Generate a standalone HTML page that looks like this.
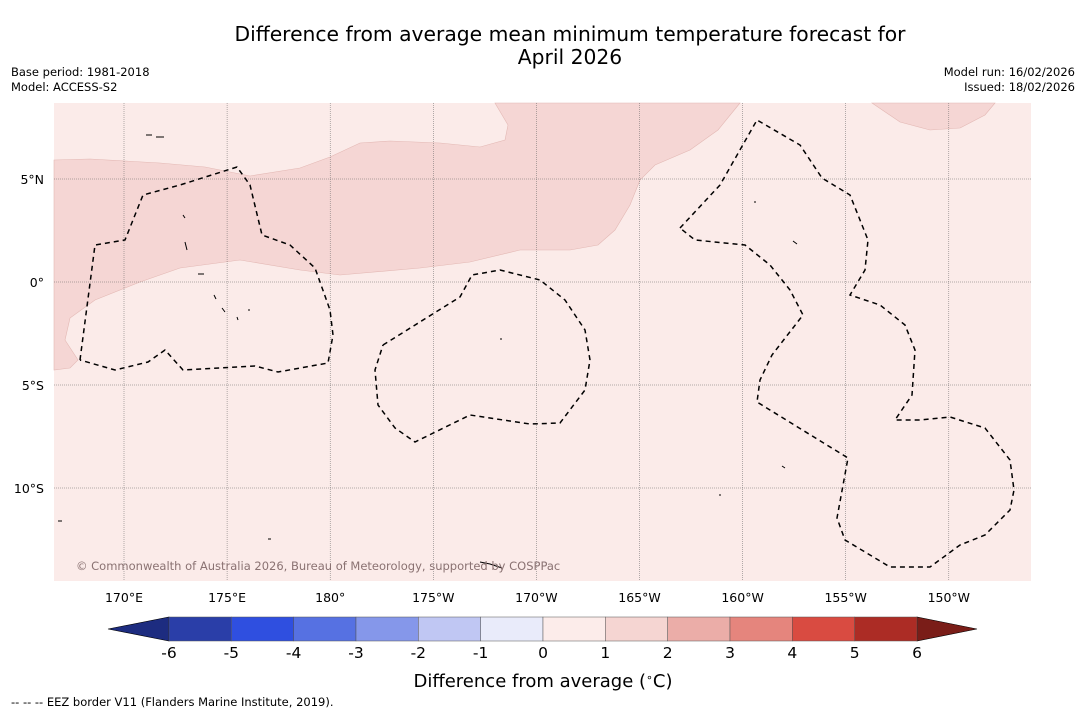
<!DOCTYPE html>
<html><head><meta charset="utf-8"><style>
body{margin:0;background:#fff;width:1085px;height:713px;overflow:hidden;font-family:"DejaVu Sans",sans-serif}
</style></head><body>
<svg width="1085" height="713" viewBox="0 0 1085 713" xmlns="http://www.w3.org/2000/svg" font-family="DejaVu Sans, sans-serif">
<text x="570" y="41" font-size="20.3" text-anchor="middle">Difference from average mean minimum temperature forecast for</text>
<text x="570" y="64" font-size="20.3" text-anchor="middle">April 2026</text>
<text x="11" y="76" font-size="11.5">Base period: 1981-2018</text>
<text x="11" y="91" font-size="11.5">Model: ACCESS-S2</text>
<text x="1075" y="76" font-size="11.5" text-anchor="end">Model run: 16/02/2026</text>
<text x="1075" y="91" font-size="11.5" text-anchor="end">Issued: 18/02/2026</text>
<g id="map">
<rect x="54" y="103" width="977" height="478" fill="#fbebe9"/>
<polygon fill="#f5d6d4" stroke="#e3b8b4" stroke-width="0.6" points="54,160 90,159 160,163 205,167 250,176 300,168 330,157 360,143 390,141 440,143 480,147 505,140 508,125 495,103 740,103 718,130 690,150 655,165 640,180 630,205 615,230 598,245 570,250 520,250 470,262 420,268 340,275 300,270 240,260 180,268 140,282 95,300 70,318 65,340 78,360 70,368 54,370"/>
<polygon fill="#f5d6d4" stroke="#e3b8b4" stroke-width="0.6" points="872,103 900,122 930,130 960,128 985,115 995,103"/>
<g id="grid" stroke="#666" stroke-width="0.5" stroke-dasharray="1,1"></g>
<g fill="none" stroke="#000" stroke-width="1.5" stroke-dasharray="5,4">
<polyline points="80,360 95,245 125,240 143,195 180,185 237,167 250,185 262,235 290,245 315,268 330,310 333,335 328,363 278,372 255,366 183,370 165,350 148,362 115,370 80,360"/>
<polyline points="383,345 460,297 472,275 500,270 540,280 565,300 585,330 590,360 585,390 560,423 530,424 470,415 415,442 395,428 378,405 375,370 383,345"/>
<polyline points="680,228 720,185 757,120 800,145 822,178 850,195 868,240 865,270 850,295 880,305 905,325 915,350 912,395 895,420 920,420 950,417 985,428 1010,460 1014,490 1010,510 985,535 960,545 930,567 890,567 845,540 837,518 848,458 757,402 760,380 772,355 803,315 790,290 770,265 745,245 695,240 680,228"/>
</g>
<g fill="none" stroke="#000" stroke-width="1">
<path d="M146 135h6M156 137h8M183 215l2 3M185 242l2 8M198 274h6M237 317l1 3M480 562l10 2 12 4M500 339h2M755 201v2M793 241l4 3M782 466l3 2M720 494v2M58 521h4M268 539h3M214 295l2 4M248 310h2M222 308l3 4"/>
</g>
<text x="76" y="570" font-size="11.5" fill="#8a7272">© Commonwealth of Australia 2026, Bureau of Meteorology, supported by COSPPac</text>
</g>
<g id="axlabels" font-size="12.5"></g>
<g id="colorbar"></g>
<text x="543" y="687" font-size="18" text-anchor="middle">Difference from average (<tspan baseline-shift="super" font-size="11">∘</tspan>C)</text>
<text x="11" y="706" font-size="11.5">--  --  -- EEZ border V11 (Flanders Marine Institute, 2019).</text>
</svg>
<script>
const lonTicks=["170°E","175°E","180°","175°W","170°W","165°W","160°W","155°W","150°W"];
const lonValues=[170,175,180,185,190,195,200,205,210];
const latTicks=["5°N","0°","5°S","10°S"];
const latValues=[5,0,-5,-10];
const cbTicks=[-6,-5,-4,-3,-2,-1,0,1,2,3,4,5,6];
const cbColors=["#2a3ea8","#2f4fe0","#5671e2","#8597ea","#c0c7f3","#e9ebfa","#fcecea","#f5d5d2","#ebada8","#e5857d","#d94b41","#ac2c25"];
const NS="http://www.w3.org/2000/svg";
const xLon=v=>124+(v-170)*20.62;
const yLat=v=>282-v*20.6;
const grid=document.getElementById('grid'),ax=document.getElementById('axlabels'),cb=document.getElementById('colorbar');
function mk(t,a,p){const e=document.createElementNS(NS,t);for(const k in a)e.setAttribute(k,a[k]);p.appendChild(e);return e;}
lonValues.forEach((v,i)=>{const x=xLon(v);
 const l=mk('line',{x1:x,x2:x,y1:103,y2:581},grid);
 
 
 const t=mk('text',{x:x,y:602,'text-anchor':'middle'},ax);t.textContent=lonTicks[i];
 
 });
latValues.forEach((v,i)=>{const y=yLat(v);
 const l=mk('line',{x1:54,x2:1031,y1:y,y2:y},grid);
 
 
 const t=mk('text',{x:44,y:y+5,'text-anchor':'end'},ax);t.textContent=latTicks[i];
 
 });
const cx=v=>169+(v+6)*(917-169)/12, cy=617, ch=24;
const lt=mk('polygon',{points:`108,${cy+ch/2} ${cx(-6)},${cy} ${cx(-6)},${cy+ch}`,fill:'#1d2c80',stroke:'#000','stroke-width':0.6},cb);


const rt=mk('polygon',{points:`977,${cy+ch/2} ${cx(6)},${cy} ${cx(6)},${cy+ch}`,fill:'#7a1d18',stroke:'#000','stroke-width':0.6},cb);


cbColors.forEach((c,i)=>{const r=mk('rect',{x:cx(cbTicks[i]),y:cy,width:cx(cbTicks[i+1])-cx(cbTicks[i]),height:ch,fill:c,stroke:'#555','stroke-width':0.5},cb);
 
 });
cbTicks.forEach(v=>{const t=mk('text',{x:cx(v),y:658,'text-anchor':'middle','font-size':15.5},cb);t.textContent=v;
 
 });
</script>
</body></html>
